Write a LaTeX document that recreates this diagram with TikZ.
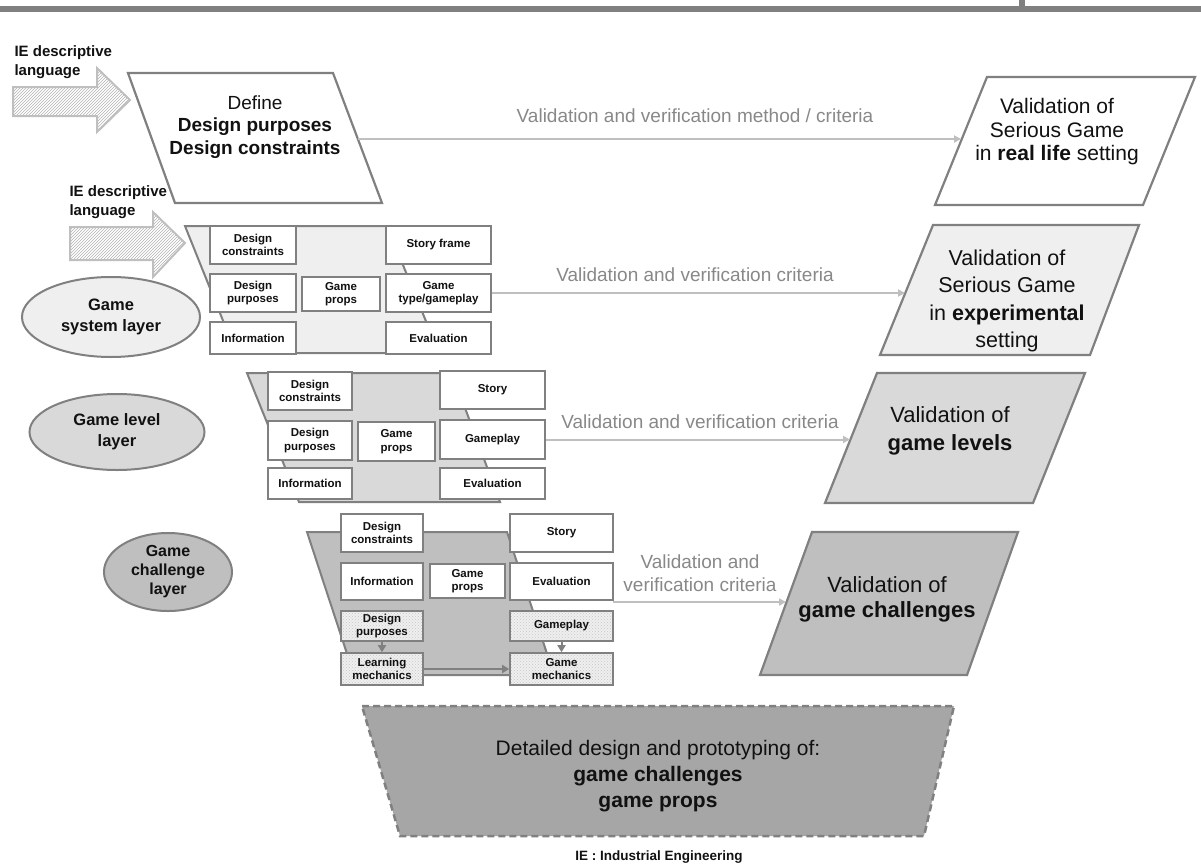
\documentclass[tikz,border=0pt]{standalone}
\usepackage{fontspec}
\setmainfont{Liberation Sans}
\usetikzlibrary{arrows.meta,patterns,shapes.geometric}
\definecolor{bord}{HTML}{808080}
\definecolor{vline}{HTML}{BFBFBF}
\definecolor{vtext}{HTML}{888888}
\definecolor{fillA}{HTML}{EFEFEF}
\definecolor{fillB}{HTML}{D9D9D9}
\definecolor{fillC}{HTML}{BFBFBF}
\definecolor{fillD}{HTML}{A6A6A6}
\definecolor{txt}{HTML}{111111}
\newcommand{\fsz}[2]{\fontsize{#1}{#2}\selectfont}
\newcommand{\bx}[7][box]{\node[#1, minimum width={(#5-#3)*1pt}, minimum height={(#6-#4)*1pt}] (#2) at ({(#3+#5)/2},{(#4+#6)/2}) {#7};}
\tikzset{
 box/.style={draw=bord, line width=1.6pt, fill=white, align=center, inner sep=0pt, font=\bfseries\fsz{11.5}{13.5}, text=txt},
 hbox/.style={draw=bord, line width=1.6pt, align=center, inner sep=0pt, font=\bfseries\fsz{11.5}{13.5}, text=txt, preaction={fill=fillA}, pattern=crosshatch dots, pattern color=gray!45},
 layer/.style={draw=bord, line width=2pt},
 para/.style={draw=bord, line width=2.2pt},
 vl/.style={draw=vline, line width=2pt, -{Triangle[length=7pt,width=7pt]}},
 vlab/.style={text=vtext, font=\fsz{19}{23}, align=center},
 ptext/.style={text=txt, align=center},
 oval/.style={ellipse, draw=bord, line width=2pt, inner sep=0pt, align=center, font=\bfseries\fsz{16.5}{21}, text=txt},
 ie/.style={font=\bfseries\fsz{15}{19}, align=left, text=txt, anchor=west},
 blockarrow/.style={draw=vline, line width=2pt, pattern=north east lines, pattern color=gray!60},
 iarrow/.style={draw=bord, line width=2pt, -{Triangle[length=7pt,width=8pt]}},
}
\begin{document}
\begin{tikzpicture}[x=1pt,y=-1pt]
\useasboundingbox (0,0) rectangle (1201,867);
% top bar
\fill[bord] (0,6) rectangle (1201,12);
\fill[bord] (1019,0) rectangle (1025,12);

% ---------- top level ----------
\node[ie] (ie1) at (11,62) {IE descriptive\\language};
\draw[blockarrow] (13,87) -- (97,87) -- (97,68) -- (130,100) -- (97,132) -- (97,116) -- (13,116) -- cycle;
\draw[para, fill=white] (128,73) -- (333,73) -- (382,203) -- (175,203) -- cycle;
\node[ptext, font=\fsz{19}{22.5}] (def) at (255,127) {Define\\\textbf{Design purposes}\\\textbf{Design constraints}};
\coordinate (o1) at (358,139);
\draw[para, fill=white] (987,77) -- (1195,77) -- (1143,205) -- (935,205) -- cycle;
\node[ptext, font=\fsz{21}{23.5}] (v1) at (1057,132) {Validation of\\Serious Game\\in \textbf{real life} setting};
\coordinate (i1) at (961,139);
\draw[vl] (o1) -- (i1);
\node[vlab] (l1) at (695,116) {Validation and verification method / criteria};

% ---------- game system layer ----------
\node[ie] (ie2) at (66,202) {IE descriptive\\language};
\draw[blockarrow] (70,227) -- (153,227) -- (153,212) -- (185,243) -- (153,277) -- (153,260) -- (70,260) -- cycle;
\draw[layer, fill=fillA] (185,226) -- (387,226) -- (439,353) -- (236,353) -- cycle;
\bx{dc2}{210}{226}{296}{264}{Design\\constraints}
\bx{sf2}{386}{226}{491}{264}{Story frame}
\bx{dp2}{210}{274}{296}{312}{Design\\purposes}
\bx{gp2}{302}{277}{380}{311}{Game\\props}
\bx{gt2}{386}{274}{491}{312}{Game\\type/gameplay}
\bx{in2}{210}{322}{296}{354}{Information}
\bx{ev2}{386}{322}{491}{354}{Evaluation}
\node[oval, fill=fillA, minimum width=178pt, minimum height=80pt] (e2) at (111,317) {Game\\system layer};
\draw[para, fill=fillA] (933,225) -- (1139,225) -- (1090,355) -- (880,355) -- cycle;
\node[ptext, font=\fsz{21.5}{27.3}] (v2) at (1007,301) {Validation of\\Serious Game\\in \textbf{experimental}\\setting};
\coordinate (i2) at (905,293);
\draw[vl] (gt2.east) -- (i2);
\node[vlab] (l2) at (695,275) {Validation and verification criteria};

% ---------- game level layer ----------
\draw[layer, fill=fillB] (247,373) -- (452,373) -- (500,502) -- (299,502) -- cycle;
\bx{dc3}{268}{372}{352}{410}{Design\\constraints}
\bx{st3}{440}{371}{545}{409}{Story}
\bx{dp3}{268}{421}{352}{460}{Design\\purposes}
\bx{gp3}{358}{422}{435}{461}{Game\\props}
\bx{gm3}{440}{420}{545}{459}{Gameplay}
\bx{in3}{268}{468}{352}{499}{Information}
\bx{ev3}{440}{468}{545}{499}{Evaluation}
\node[oval, fill=fillB, minimum width=175pt, minimum height=76pt] (e3) at (117,432) {Game level\\layer};
\draw[para, fill=fillB] (877,373) -- (1085,373) -- (1033,503) -- (825,503) -- cycle;
\node[ptext, font=\fsz{22}{28}] (v3) at (950,431) {Validation of\\\textbf{game levels}};
\coordinate (i3) at (850,439.5);
\draw[vl] (gm3.east) -- (i3);
\node[vlab] (l3) at (700,422) {Validation and verification criteria};

% ---------- game challenge layer ----------
\draw[layer, fill=fillC] (307,532) -- (507,532) -- (554,675) -- (354,675) -- cycle;
\bx{dc4}{341}{514}{423}{552}{Design\\constraints}
\bx{st4}{510}{514}{613}{552}{Story}
\bx{in4}{341}{563}{423}{600}{Information}
\bx{gp4}{430}{564}{505}{598}{Game\\props}
\bx{ev4}{510}{563}{613}{600}{Evaluation}
\bx[hbox]{dpu4}{341}{611}{423}{641}{Design\\purposes}
\bx[hbox]{gpl4}{510}{611}{613}{641}{Gameplay}
\bx[hbox]{lm4}{341}{653}{423}{685}{Learning\\mechanics}
\bx[hbox]{gme4}{510}{653}{613}{685}{Game\\mechanics}
\draw[iarrow] (dpu4) -- (lm4);
\draw[iarrow] (gpl4) -- (gme4);
\draw[iarrow] (lm4) -- (gme4);
\node[oval, fill=fillC, minimum width=128pt, minimum height=78pt, font=\bfseries\fsz{16}{19}] (e4) at (168,572) {Game\\challenge\\layer};
\draw[para, fill=fillC] (812,532) -- (1018,532) -- (967,675) -- (760,675) -- cycle;
\node[ptext, font=\fsz{22}{25}] (v4) at (887,599) {Validation of\\\textbf{game challenges}};
\coordinate (o4) at (613,602);
\coordinate (i4) at (786,602);
\draw[vl] (o4) -- (i4);
\node[vlab] (l4) at (700,573) {Validation and\\verification criteria};

% ---------- bottom ----------
\draw[draw=bord, line width=2.5pt, dash pattern=on 7pt off 4pt, fill=fillD] (362,706) -- (954,706) -- (924,836) -- (400,836) -- cycle;
\node[ptext, font=\fsz{21}{26}] (det) at (658,776) {Detailed design and prototyping of:\\\textbf{game challenges}\\\textbf{game props}};
\node[font=\bfseries\fsz{13.5}{16}, text=txt] (foot) at (659,857) {IE : Industrial Engineering};
\end{tikzpicture}
\end{document}
